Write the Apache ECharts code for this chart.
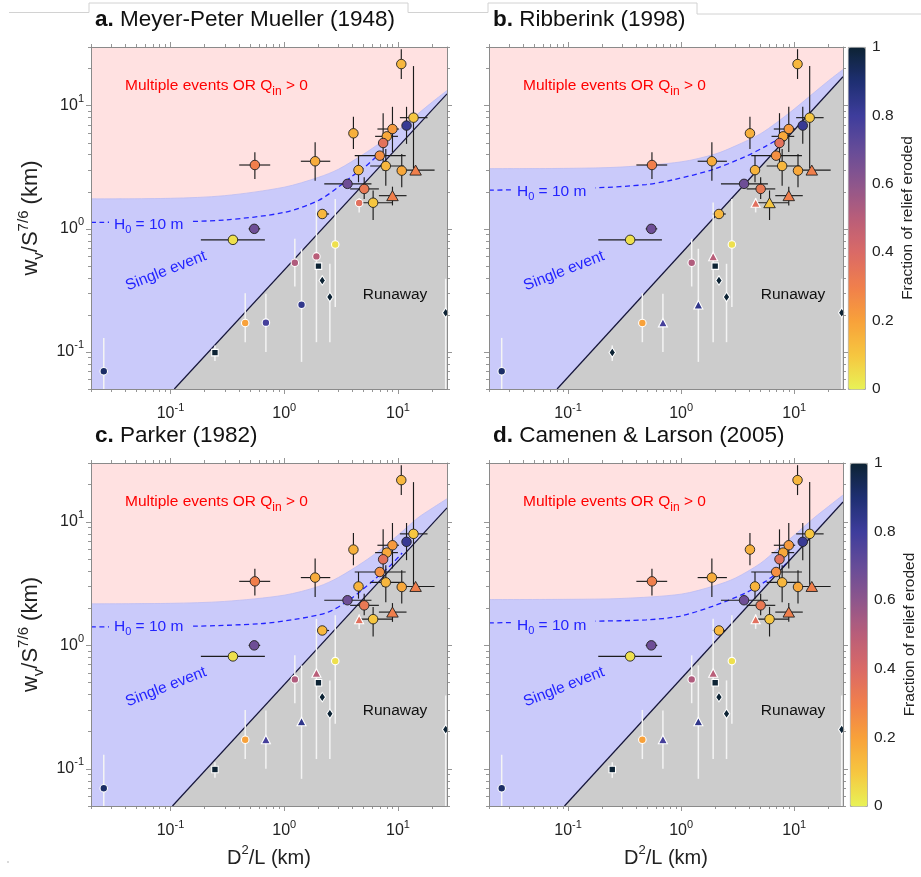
<!DOCTYPE html>
<html>
<head>
<meta charset="utf-8">
<script src="https://cdn.jsdelivr.net/npm/echarts@6/dist/echarts.min.js"></script>
<style>
  html, body { margin: 0; padding: 0; background: #ffffff; }
  #chart { width: 921px; height: 877px; }
</style>
</head>
<body>
<div id="chart"></div>
<script>
// ---------------------------------------------------------------
// Site data (same for every panel): D^2/L, w_v/S^(7/6), error ranges,
// fraction of relief eroded, and marker edge group.
// ---------------------------------------------------------------
const siteX = [10.7, 13.7, 11.9, 8.95, 7.98, 7.41, 6.92, 7.82, 10.8, 14.3, 4.5, 3.6, 5.05, 8.95, 6.05, 4.06, 1.87, 0.552, 2.16, 0.545, 0.354,
               4.56, 2.81, 1.92, 1.24, 2.0, 2.16, 2.52, 1.42, 0.454, 0.69, 0.246, 0.0259, 26.3];
const siteY = [21.8, 8.0, 6.9, 6.47, 5.64, 4.98, 3.93, 3.24, 2.97, 3.0, 3.0, 2.32, 2.11, 1.86, 1.63, 5.97, 3.54, 3.30, 1.32, 1.0, 0.814,
               1.62, 0.746, 0.597, 0.53, 0.498, 0.381, 0.279, 0.242, 0.172, 0.173, 0.0988, 0.0697, 0.208];
const siteXLow  = [null, 10.4, null, 6.6, 6.3, null, 4.17, 5.7, null, 10.9, null, 2.25, 3.8, 6.8, 4.55, null, 1.4, 0.402, 1.9, 0.486, 0.185,
                   null, null, null, null, null, null, null, null, null, null, null, null, null];
const siteXHigh = [null, 18.2, null, 10.2, 10.0, null, 11.7, 11.3, null, 21.0, null, 5.85, 6.8, 11.9, 8.95, null, 2.54, 0.753, 2.48, 0.615, 0.676,
                   null, null, null, null, null, null, null, null, null, null, null, null, null];
const siteYLow  = [16.5, 3.1, 4.9, 4.2, null, 2.97, null, 2.24, 2.18, null, 2.39, null, 1.75, 1.55, 1.18, 4.45, 2.46, 2.54, null, null, null,
                   1.36, 0.232, 0.12, 0.34, null, null, 0.12, 0.083, 0.12, 0.10, 0.0845, 0.04, 0.04];
const siteYHigh = [28.8, 21.0, 9.8, 9.8, null, 8.7, null, 4.45, 4.06, null, 3.93, null, 2.62, 2.2, 2.05, 8.15, 5.05, 4.18, null, null, null,
                   1.78, 1.75, 1.64, 0.83, null, null, 0.52, 0.689, 0.30, 0.297, 0.113, 0.13, 0.393];
const reliefEroded = [0.14, 0.10, 0.82, 0.22, 0.18, 0.36, 0.25, 0.14, 0.18, 0.30, 0.15, 0.68, 0.33, 0.30, 0.10, 0.16, 0.17, 0.30, 0.14, 0.68, 0.04,
                      0.37, 0.04, 0.50, 0.52, 1.0, 1.0, 1.0, 0.84, 0.20, 0.78, 1.0, 0.92, 1.0];
// 'k' = dark outline / dark error bars, 'w' = white outline / white error bars
const edgeGroup = ['k','k','k','k','k','k','k','k','k','k','k','k','k','k','k','k','k','k','k','k','k',
                   'w','w','w','w','w','w','w','w','w','w','w','w','w'];

// Marker shape per panel: o circle, ^ triangle, s square, d diamond
const markerA = ['o','o','o','o','o','o','o','o','o','^','o','o','o','^','o','o','o','o','o','o','o',
                 'o','o','o','o','s','d','d','o','o','o','s','o','d'];
const markerB = ['o','o','o','o','o','o','o','o','o','^','o','o','o','^','^','o','o','o','o','o','o',
                 '^','o','^','o','s','d','d','^','o','^','d','o','d'];
const markerC = ['o','o','o','o','o','o','o','o','o','^','o','o','o','^','o','o','o','o','o','o','o',
                 '^','o','^','o','s','d','d','^','o','^','s','o','d'];
const markerD = ['o','o','o','o','o','o','o','o','o','^','o','o','o','^','o','o','o','o','o','o','o',
                 '^','o','^','o','s','d','d','^','o','^','s','o','d'];

// Regime boundaries for each transport law
const curveX = [0.02, 0.1, 0.3, 1, 2, 3, 5, 7, 10, 15, 20, 27];
const singleTopA = [1.75, 1.77, 1.86, 2.18, 2.62, 3.05, 4.05, 5.0, 6.3, 8.6, 10.7, 13.3];
const singleTopB = [3.08, 3.10, 3.18, 3.50, 4.05, 4.70, 5.90, 7.3, 9.4, 12.8, 15.9, 19.7];
const singleTopC = [2.17, 2.19, 2.27, 2.55, 3.00, 3.55, 4.75, 5.95, 7.8, 10.8, 12.9, 15.4];
const singleTopD = [2.35, 2.36, 2.40, 2.60, 3.05, 3.50, 4.60, 5.95, 7.8, 10.8, 13.3, 16.5];

const h10XA = [0.02, 0.1, 0.3, 1, 2, 3, 4, 5, 6, 7.1];
const h10YA = [1.13, 1.14, 1.18, 1.36, 1.70, 2.19, 2.70, 3.12, 3.62, 4.19];
const h10XB = [0.02, 0.168, 0.49, 0.86, 1.9, 3.73, 5.58, 7.07];
const h10YB = [2.06, 2.15, 2.29, 2.51, 3.03, 3.88, 4.68, 5.30];
const h10XC = [0.02, 0.162, 0.624, 1.22, 2.4, 3.6, 4.7, 6.2, 8.5, 10.9];
const h10YC = [1.41, 1.43, 1.50, 1.62, 1.85, 2.28, 2.75, 3.41, 4.40, 5.60];
const h10XD = [0.02, 0.168, 0.49, 0.965, 1.89, 3.72, 5.58, 7.3, 9.25];
const h10YD = [1.52, 1.57, 1.61, 1.72, 2.07, 2.66, 3.30, 4.00, 5.00];

const runawayXA = [0.108, 27], runawayYA = [0.05, 12.5];
const runawayXB = [0.080, 27], runawayYB = [0.05, 17.2];
const runawayXC = [0.104, 27], runawayYC = [0.05, 13.0];
const runawayXD = [0.093, 27], runawayYD = [0.05, 14.5];

const panelTitles = [['a.', ' Meyer-Peter Mueller (1948)'], ['b.', ' Ribberink (1998)'],
                     ['c.', ' Parker (1982)'], ['d.', ' Camenen & Larson (2005)']];

// Axis ticks
const xMajorTicks = [0.1, 1, 10];
const xMinorTicks = [0.02, 0.03, 0.04, 0.05, 0.06, 0.07, 0.08, 0.09, 0.2, 0.3, 0.4, 0.5, 0.6, 0.7, 0.8, 0.9, 2, 3, 4, 5, 6, 7, 8, 9, 20];
const yMajorTicks = [0.1, 1, 10];
const yMinorTicks = [0.05, 0.06, 0.07, 0.08, 0.09, 0.2, 0.3, 0.4, 0.5, 0.6, 0.7, 0.8, 0.9, 2, 3, 4, 5, 6, 7, 8, 9, 20, 30];
const colorbarTicks = [0, 0.2, 0.4, 0.6, 0.8, 1];

// ---------------------------------------------------------------
// Styling and layout
// ---------------------------------------------------------------
const FONT = '"Liberation Sans", Arial, Helvetica, sans-serif';
const TEXT = '#222222';
const AXIS_GRAY = '#8a8a8a';
const PINK = '#ffe1e1';
const BLUE = '#cacafa';
const GRAY = '#cccccc';
const X_MIN = 0.02, X_MAX = 27, Y_MIN = 0.05, Y_MAX = 30;
const FRACTION_COLORS = ['#e8f256', '#f6c640', '#f8a13a', '#f07f4c', '#da6a66', '#b95e79',
                         '#8e568c', '#664c98', '#3e3d9c', '#1e2f72', '#0d2334'];

const grids = [
  { left: 91,  top: 47,  width: 356, height: 342 },
  { left: 489, top: 47,  width: 354, height: 342 },
  { left: 91,  top: 463, width: 356, height: 343 },
  { left: 489, top: 463, width: 354, height: 343 }
];
const panels = [
  { top: singleTopA, h10x: h10XA, h10y: h10YA, rx: runawayXA, ry: runawayYA, marker: markerA, yLabels: true,  xName: false, h0Dx: 18, h0Dy: 178 },
  { top: singleTopB, h10x: h10XB, h10y: h10YB, rx: runawayXB, ry: runawayYB, marker: markerB, yLabels: false, xName: false, h0Dx: 23, h0Dy: 145 },
  { top: singleTopC, h10x: h10XC, h10y: h10YC, rx: runawayXC, ry: runawayYC, marker: markerC, yLabels: true,  xName: true,  h0Dx: 18, h0Dy: 164 },
  { top: singleTopD, h10x: h10XD, h10y: h10YD, rx: runawayXD, ry: runawayYD, marker: markerD, yLabels: false, xName: true,  h0Dx: 23, h0Dy: 163 }
];

const SHAPE_CODE = { o: 0, '^': 1, s: 2, d: 3 };
const SHAPE_SYMBOL = ['circle', 'triangle', 'rect', 'diamond'];
const SHAPE_SIZE = {
  k: [9.5, [11.5, 10], 7, [7, 10]],
  w: [7.5, [9, 8.5], 6.5, [6.5, 9.5]]
};

const powRich = {
  b: { fontSize: 16, lineHeight: 24, verticalAlign: 'middle', color: TEXT, fontFamily: FONT },
  s: { fontSize: 11, lineHeight: 9, verticalAlign: 'top', color: TEXT, fontFamily: FONT }
};
function powerLabel(v) {
  const e = Math.round(Math.log10(v));
  return '{b|10}{s|' + e + '}';
}

function logAxis(dim, g, position, major, labels, extra) {
  const isX = dim === 'x';
  const ax = {
    type: 'log', logBase: 10, gridIndex: g, position: position,
    min: isX ? X_MIN : Y_MIN, max: isX ? X_MAX : Y_MAX,
    z: 5, silent: true,
    axisLine: { show: major, onZero: false, lineStyle: { color: AXIS_GRAY, width: 1 } },
    axisTick: {
      show: true, inside: false, length: major ? 5 : 3,
      customValues: major ? (isX ? xMajorTicks : yMajorTicks) : (isX ? xMinorTicks : yMinorTicks),
      lineStyle: { color: AXIS_GRAY, width: 0.9 }
    },
    axisLabel: labels ? {
      show: true, customValues: isX ? xMajorTicks : yMajorTicks,
      formatter: powerLabel, rich: powRich, margin: isX ? 13 : 7
    } : { show: false },
    splitLine: { show: false },
    minorTick: { show: false },
    axisPointer: { show: false }
  };
  return Object.assign(ax, extra || {});
}

const xAxes = [], yAxes = [];
grids.forEach((gr, g) => {
  const p = panels[g];
  const xName = p.xName ? {
    name: '{t|D}{u|2}{t|/L (km)}', nameLocation: 'middle', nameGap: 38,
    nameTextStyle: { rich: {
      t: { fontSize: 20, lineHeight: 28, verticalAlign: 'middle', color: TEXT, fontFamily: FONT },
      u: { fontSize: 13, lineHeight: 12, verticalAlign: 'top', color: TEXT, fontFamily: FONT }
    } }
  } : {};
  const yName = p.yLabels ? {
    name: '{t|w}{d|v}{t|/S}{u|7/6}{t| (km)}', nameLocation: 'middle', nameGap: 45,
    nameTextStyle: { rich: {
      t: { fontSize: 22, lineHeight: 30, verticalAlign: 'middle', color: TEXT, fontFamily: FONT },
      d: { fontSize: 15, lineHeight: 12, verticalAlign: 'bottom', color: TEXT, fontFamily: FONT },
      u: { fontSize: 15, lineHeight: 12, verticalAlign: 'top', color: TEXT, fontFamily: FONT }
    } }
  } : {};
  xAxes.push(logAxis('x', g, 'bottom', true, true, xName));
  xAxes.push(logAxis('x', g, 'bottom', false, false));
  xAxes.push(logAxis('x', g, 'top', true, false));
  xAxes.push(logAxis('x', g, 'top', false, false));
  yAxes.push(logAxis('y', g, 'left', true, p.yLabels, yName));
  yAxes.push(logAxis('y', g, 'left', false, false));
  yAxes.push(logAxis('y', g, 'right', true, false));
  yAxes.push(logAxis('y', g, 'right', false, false));
});

// Colorbar label axes
const cbGrids = [
  { left: 848, top: 47,  width: 17, height: 342 },
  { left: 850, top: 463, width: 17, height: 343 }
];
cbGrids.forEach((cg, k) => {
  const gi = 4 + k;
  xAxes.push({ type: 'value', gridIndex: gi, min: 0, max: 1, show: false });
  yAxes.push({
    type: 'value', gridIndex: gi, position: 'right', min: 0, max: 1, interval: 0.2,
    axisLine: { show: false }, axisTick: { show: false }, splitLine: { show: false },
    axisLabel: { show: true, customValues: colorbarTicks, fontSize: 15.5, color: TEXT, fontFamily: FONT, margin: 7 },
    name: 'Fraction of relief eroded', nameLocation: 'middle', nameGap: 35, nameRotate: 90,
    nameTextStyle: { fontSize: 15.5, color: TEXT, fontFamily: FONT },
    silent: true
  });
});

// ---------------------------------------------------------------
// Series
// ---------------------------------------------------------------
const series = [];
const scatterTop = [], scatterBottom = [];

panels.forEach((p, g) => {
  const xi = g * 4, yi = g * 4;
  // Single-event band (blue) filled down to the axis floor
  series.push({
    type: 'line', xAxisIndex: xi, yAxisIndex: yi, silent: true, animation: false,
    data: curveX.map((x, i) => [x, p.top[i]]),
    showSymbol: false, smooth: 0.3,
    lineStyle: { width: 0.8, color: '#bdbdf2' },
    areaStyle: { color: BLUE, opacity: 1, origin: 'start' },
    z: 1
  });
  // H0 = 10 m curve
  series.push({
    type: 'line', xAxisIndex: xi, yAxisIndex: yi, silent: true, animation: false,
    data: p.h10x.map((x, i) => [x, p.h10y[i]]),
    showSymbol: false, smooth: 0.3,
    lineStyle: { width: 1.3, color: '#2323ff', type: [5, 3.5] },
    z: 2
  });
  // Runaway threshold with grey region beneath
  series.push({
    type: 'line', xAxisIndex: xi, yAxisIndex: yi, silent: true, animation: false,
    data: p.rx.map((x, i) => [x, p.ry[i]]),
    showSymbol: false,
    lineStyle: { width: 1.2, color: '#15153a' },
    areaStyle: { color: GRAY, opacity: 1, origin: 'start' },
    z: 2
  });
  // Error bars
  series.push({
    type: 'custom', xAxisIndex: xi, yAxisIndex: yi, silent: true, animation: false,
    data: siteX.map((x, i) => [x, siteY[i]]),
    encode: { x: 0, y: 1 },
    renderItem: function (params, api) {
      const i = params.dataIndex;
      const cs = params.coordSys;
      const cy = v => Math.max(cs.y, Math.min(cs.y + cs.height, v));
      const cx = v => Math.max(cs.x, Math.min(cs.x + cs.width, v));
      const dark = edgeGroup[i] === 'k';
      const style = dark ? { stroke: '#1c1c1c', lineWidth: 1.15 } : { stroke: '#f4f4f4', lineWidth: 1.5 };
      const children = [];
      if (siteYLow[i] != null) {
        const a = api.coord([siteX[i], siteYLow[i]]);
        const b = api.coord([siteX[i], siteYHigh[i]]);
        children.push({ type: 'line', shape: { x1: a[0], y1: cy(a[1]), x2: b[0], y2: cy(b[1]) }, style: style });
      }
      if (siteXLow[i] != null) {
        const a = api.coord([siteXLow[i], siteY[i]]);
        const b = api.coord([siteXHigh[i], siteY[i]]);
        children.push({ type: 'line', shape: { x1: cx(a[0]), y1: a[1], x2: cx(b[0]), y2: b[1] }, style: style });
      }
      return { type: 'group', children: children };
    },
    z: 3
  });
  // Markers: white-edged group first, dark-edged group on top
  ['w', 'k'].forEach(grp => {
    const data = [];
    siteX.forEach((x, i) => {
      if (edgeGroup[i] === grp) data.push([x, siteY[i], reliefEroded[i], SHAPE_CODE[p.marker[i]]]);
    });
    const idx = series.length;
    series.push({
      type: 'scatter', xAxisIndex: xi, yAxisIndex: yi, silent: true, animation: false,
      data: data,
      symbol: v => SHAPE_SYMBOL[v[3]],
      symbolSize: v => SHAPE_SIZE[grp][v[3]],
      itemStyle: { borderColor: grp === 'k' ? '#202020' : '#ffffff', borderWidth: grp === 'k' ? 0.9 : 1.1, opacity: 1 },
      z: 4
    });
    (g < 2 ? scatterTop : scatterBottom).push(idx);
  });
});

// ---------------------------------------------------------------
// Text annotations and panel titles
// ---------------------------------------------------------------
const graphics = [];
graphics.push({
  type: 'polyline', silent: true, z: 0,
  shape: { points: [[9, 12.5], [89, 12.5], [89, 3], [408, 3], [408, 12.5], [488, 12.5], [488, 3], [697, 3], [697, 14], [921, 14]] },
  style: { stroke: '#d2d2d2', lineWidth: 1, fill: null }
});
graphics.push({ type: 'circle', silent: true, shape: { cx: 8, cy: 862, r: 0.8 }, style: { fill: '#aaaaaa' } });

grids.forEach((gr, g) => {
  const p = panels[g];
  graphics.push({
    type: 'text', silent: true, z: 10,
    x: gr.left + 4, y: gr.top - 27,
    style: {
      text: '{b|' + panelTitles[g][0] + '}{r|' + panelTitles[g][1] + '}',
      align: 'left', verticalAlign: 'middle',
      rich: {
        b: { fontSize: 22.5, fontWeight: 'bold', fill: '#111111', fontFamily: FONT },
        r: { fontSize: 22.5, fill: '#111111', fontFamily: FONT }
      }
    }
  });
  graphics.push({
    type: 'text', silent: true, z: 10,
    x: gr.left + 34, y: gr.top + 38.5,
    style: {
      text: '{r|Multiple events OR Q}{s|in}{r| > 0}',
      align: 'left', verticalAlign: 'middle',
      rich: {
        r: { fontSize: 15.5, lineHeight: 24, verticalAlign: 'middle', fill: '#ff0000', fontFamily: FONT },
        s: { fontSize: 12, lineHeight: 10, verticalAlign: 'bottom', fill: '#ff0000', fontFamily: FONT }
      }
    }
  });
  graphics.push({
    type: 'text', silent: true, z: 10,
    x: gr.left + p.h0Dx, y: gr.top + p.h0Dy,
    style: {
      text: '{r|H}{s|0}{r| = 10 m}',
      align: 'left', verticalAlign: 'middle',
      backgroundColor: BLUE, padding: [0, 9, 0, 5],
      rich: {
        r: { fontSize: 15.5, lineHeight: 20, verticalAlign: 'middle', fill: '#2323ff', fontFamily: FONT },
        s: { fontSize: 11, lineHeight: 12, verticalAlign: 'bottom', fill: '#2323ff', fontFamily: FONT }
      }
    }
  });
  graphics.push({
    type: 'text', silent: true, z: 10,
    x: gr.left + 75, y: gr.top + 224, rotation: 0.37,
    style: { text: 'Single event', fontSize: 15.5, fontFamily: FONT, fill: '#2323ff', align: 'center', verticalAlign: 'middle' }
  });
  graphics.push({
    type: 'text', silent: true, z: 10,
    x: gr.left + 304, y: gr.top + 248,
    style: { text: 'Runaway', fontSize: 15.5, fontFamily: FONT, fill: '#111111', align: 'center', verticalAlign: 'middle' }
  });
});

// ---------------------------------------------------------------
const chart = echarts.init(document.getElementById('chart'), null, { renderer: 'canvas' });
chart.setOption({
  animation: false,
  backgroundColor: '#ffffff',
  textStyle: { fontFamily: FONT },
  grid: grids.map(gr => Object.assign({ show: true, backgroundColor: PINK, borderWidth: 0, containLabel: false }, gr))
               .concat(cbGrids.map(cg => Object.assign({ show: false }, cg))),
  xAxis: xAxes,
  yAxis: yAxes,
  visualMap: [
    { type: 'continuous', min: 0, max: 1, dimension: 2, seriesIndex: scatterTop, inRange: { color: FRACTION_COLORS },
      calculable: false, hoverLink: false, orient: 'vertical', left: 848, top: 47, itemWidth: 17, itemHeight: 342,
      padding: 0, text: null, borderColor: '#8a8a8a', borderWidth: 0.8 },
    { type: 'continuous', min: 0, max: 1, dimension: 2, seriesIndex: scatterBottom, inRange: { color: FRACTION_COLORS },
      calculable: false, hoverLink: false, orient: 'vertical', left: 850, top: 463, itemWidth: 17, itemHeight: 343,
      padding: 0, text: null, borderColor: '#8a8a8a', borderWidth: 0.8 }
  ],
  graphic: graphics,
  series: series
});
</script>
</body>
</html>
